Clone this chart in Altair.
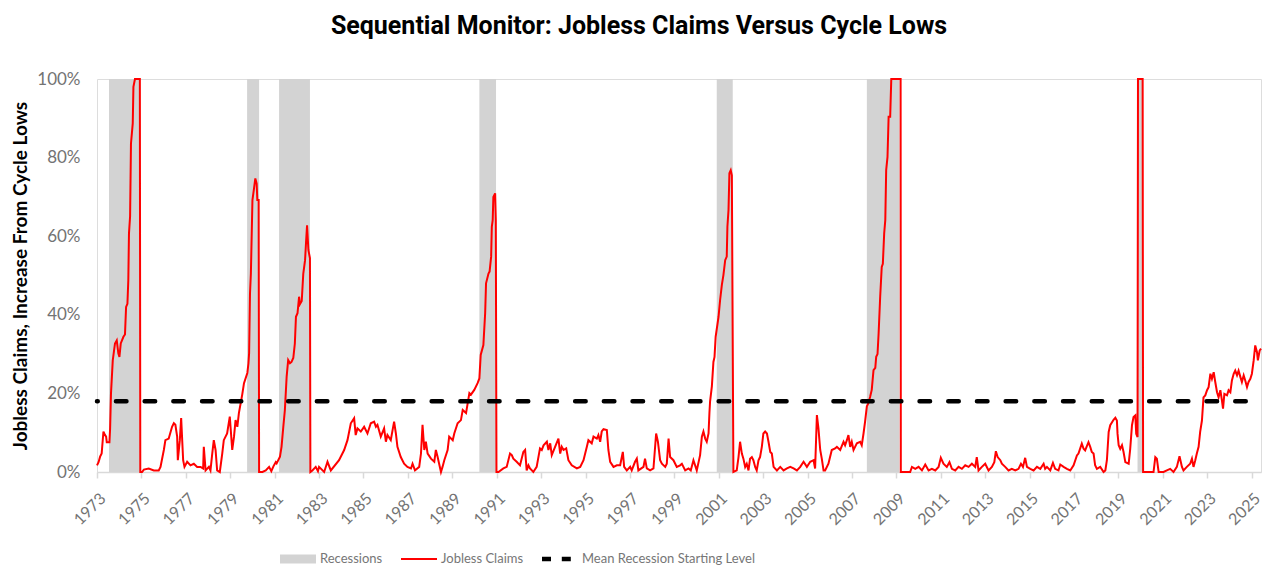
import altair as alt
import pandas as pd

# ---------------- data ----------------
claims_year = [
    1973.00, 1973.07, 1973.14, 1973.21, 1973.29, 1973.35, 1973.41, 1973.44, 1973.56, 1973.59,
    1973.63, 1973.71, 1973.81, 1973.89, 1973.96, 1974.01, 1974.07, 1974.19, 1974.26, 1974.31,
    1974.37, 1974.41, 1974.44, 1974.49, 1974.53, 1974.61, 1974.64, 1974.71, 1974.93, 1974.95,
    1975.03, 1975.11, 1975.33, 1975.56, 1975.78, 1975.86, 1976.01, 1976.08, 1976.23, 1976.38,
    1976.46, 1976.53, 1976.61, 1976.64, 1976.73, 1976.79, 1976.88, 1976.94, 1977.06, 1977.21,
    1977.36, 1977.51, 1977.66, 1977.78, 1977.81, 1977.89, 1978.04, 1978.11, 1978.19, 1978.26,
    1978.34, 1978.41, 1978.53, 1978.64, 1978.71, 1978.86, 1978.98, 1979.09, 1979.17, 1979.24,
    1979.32, 1979.39, 1979.54, 1979.62, 1979.77, 1979.82, 1979.85, 1979.89, 1979.93, 1980.00,
    1980.07, 1980.13, 1980.19, 1980.22, 1980.28, 1980.30,
    1980.45, 1980.60, 1980.75, 1980.85, 1980.95, 1981.05, 1981.09, 1981.24, 1981.31, 1981.39,
    1981.46, 1981.54, 1981.61, 1981.69, 1981.76, 1981.84, 1981.91, 1981.96, 1982.03, 1982.10,
    1982.14, 1982.22, 1982.29, 1982.37, 1982.42, 1982.46, 1982.52, 1982.59, 1982.61,
    1982.70, 1982.85, 1982.95, 1983.00, 1983.23, 1983.38, 1983.53, 1983.90, 1984.13, 1984.28,
    1984.43, 1984.58, 1984.65, 1984.73, 1984.88, 1985.03, 1985.18, 1985.33, 1985.48, 1985.56,
    1985.63, 1985.78, 1985.93, 1986.01, 1986.08, 1986.23, 1986.38, 1986.46, 1986.53, 1986.68,
    1986.83, 1986.98, 1987.14, 1987.21, 1987.32, 1987.51, 1987.59, 1987.66, 1987.74, 1987.81,
    1987.89, 1988.04, 1988.19, 1988.26, 1988.34, 1988.49, 1988.56, 1988.64, 1988.79, 1988.86,
    1989.02, 1989.09, 1989.24, 1989.39, 1989.47, 1989.62, 1989.77, 1989.84, 1989.99, 1990.14,
    1990.22, 1990.28, 1990.40, 1990.48, 1990.52, 1990.63, 1990.68, 1990.75, 1990.78, 1990.82,
    1990.85, 1990.93, 1990.96, 1990.99,
    1991.08, 1991.30, 1991.45, 1991.60, 1991.68, 1991.75, 1991.90, 1992.05, 1992.20, 1992.28,
    1992.35, 1992.43, 1992.50, 1992.65, 1992.80, 1992.95, 1993.03, 1993.11, 1993.26, 1993.33,
    1993.41, 1993.48, 1993.63, 1993.78, 1993.86, 1993.93, 1994.01, 1994.13, 1994.23, 1994.38,
    1994.61, 1994.76, 1994.91, 1995.06, 1995.13, 1995.28, 1995.36, 1995.51, 1995.58, 1995.66,
    1995.73, 1995.81, 1995.96, 1996.03, 1996.11, 1996.26, 1996.41, 1996.56, 1996.68, 1996.74,
    1996.86, 1997.01, 1997.08, 1997.23, 1997.31, 1997.38, 1997.61, 1997.68, 1997.76, 1997.91,
    1998.06, 1998.18, 1998.26, 1998.36, 1998.44, 1998.59, 1998.66, 1998.74, 1998.81, 1998.96,
    1999.11, 1999.26, 1999.34, 1999.49, 1999.64, 1999.74, 1999.86, 2000.01, 2000.16, 2000.24,
    2000.31, 2000.39, 2000.46, 2000.54, 2000.58, 2000.61, 2000.69, 2000.76, 2000.81, 2000.86,
    2000.99, 2001.06, 2001.14, 2001.21, 2001.29, 2001.36, 2001.39, 2001.44, 2001.48, 2001.54,
    2001.59, 2001.66,
    2001.81, 2001.89, 2001.96, 2002.04, 2002.11, 2002.19, 2002.26, 2002.34, 2002.41, 2002.49,
    2002.56, 2002.64, 2002.71, 2002.79, 2002.86, 2002.94, 2003.01, 2003.09, 2003.17, 2003.24,
    2003.32, 2003.39, 2003.47, 2003.62, 2003.77, 2003.92, 2004.07, 2004.22, 2004.37, 2004.52,
    2004.67, 2004.82, 2004.97, 2005.12, 2005.27, 2005.34, 2005.42, 2005.49, 2005.57, 2005.64,
    2005.72, 2005.79, 2005.94, 2006.09, 2006.24, 2006.32, 2006.47, 2006.62, 2006.69, 2006.77,
    2006.84, 2006.92, 2006.99, 2007.07, 2007.14, 2007.22, 2007.37, 2007.44, 2007.52, 2007.59,
    2007.67, 2007.74, 2007.82, 2007.89, 2007.97, 2008.05, 2008.09, 2008.15, 2008.20, 2008.27,
    2008.34, 2008.39, 2008.45, 2008.50, 2008.54, 2008.60, 2008.65, 2008.72, 2008.77, 2009.19,
    2009.20,
    2009.25, 2009.62, 2009.70, 2009.85, 2010.00, 2010.15, 2010.30, 2010.45, 2010.60, 2010.75,
    2010.90, 2011.00, 2011.12, 2011.27, 2011.39, 2011.50, 2011.65, 2011.80, 2011.95, 2012.10,
    2012.25, 2012.40, 2012.55, 2012.62, 2012.70, 2012.85, 2013.00, 2013.15, 2013.30, 2013.41,
    2013.48, 2013.56, 2013.68, 2013.75, 2013.90, 2014.05, 2014.20, 2014.35, 2014.50, 2014.61,
    2014.70, 2014.80, 2014.88, 2015.03, 2015.18, 2015.33, 2015.48, 2015.63, 2015.70, 2015.78,
    2015.93, 2016.05, 2016.15, 2016.30, 2016.38, 2016.53, 2016.68, 2016.83, 2016.98, 2017.13,
    2017.20, 2017.35, 2017.43, 2017.50, 2017.65, 2017.73, 2017.80, 2017.88, 2017.95, 2018.03,
    2018.18, 2018.33, 2018.41, 2018.48, 2018.56, 2018.63, 2018.78, 2018.86, 2018.93, 2018.96,
    2019.01, 2019.08, 2019.16, 2019.23, 2019.31, 2019.46, 2019.53, 2019.61, 2019.68, 2019.76,
    2019.80, 2019.86, 2019.88, 2020.09, 2020.11,
    2020.58, 2020.66, 2020.73, 2020.81, 2021.03, 2021.18, 2021.33, 2021.48, 2021.63, 2021.75,
    2021.86, 2021.93, 2022.08, 2022.23, 2022.31, 2022.38, 2022.46, 2022.53, 2022.61, 2022.68,
    2022.76, 2022.83, 2022.91, 2022.99, 2023.06, 2023.14, 2023.21, 2023.29, 2023.36, 2023.44,
    2023.51, 2023.59, 2023.66, 2023.71, 2023.77, 2023.89, 2023.96, 2024.04, 2024.11, 2024.19,
    2024.26, 2024.34, 2024.41, 2024.49, 2024.56, 2024.64, 2024.71, 2024.79, 2024.86, 2024.94,
    2025.01, 2025.09, 2025.16, 2025.24, 2025.28, 2025.36, 2025.42,
]
claims_value = [
    1.7, 2.5, 3.9, 4.7, 10.3, 9.5, 9.0, 7.6, 7.6, 11.0,
    20.0, 28.4, 32.7, 33.5, 30.2, 29.3, 32.7, 34.4, 35.0, 42.0,
    42.8, 48.8, 60.7, 65.0, 83.6, 88.7, 98.0, 100, 100, 0,
    0, 0.6, 0.9, 0.4, 0.4, 1.3, 5.6, 8.1, 8.5, 11.5,
    12.4, 12.0, 9.0, 3.0, 8.1, 13.7, 3.0, 1.3, 2.6, 1.7,
    2.1, 1.3, 1.3, 0.9, 6.4, 0.4, 1.3, 0.4, 4.7, 8.1,
    5.6, 0.4, 0, 4.7, 8.1, 9.8, 14.1, 5.6, 9.0, 13.2,
    11.5, 15.0, 19.7, 22.6, 25.2, 27.6, 30.2, 45.4, 50.5, 69.2,
    72.1, 74.7, 73.4, 69.2, 69.2, 0,
    0, 0.4, 1.3, 0.2, 1.5, 2.5, 2.2, 3.9, 6.4, 11.5,
    15.7, 24.2, 28.5, 27.7, 28.0, 29.0, 32.7, 39.5, 40.4, 44.6,
    42.7, 43.5, 50.5, 53.9, 59.0, 62.8, 56.5, 54.4, 0,
    0.4, 1.3, 0.2, 1.3, 0, 2.6, 0.4, 3.0, 5.6, 8.1,
    12.4, 13.7, 9.4, 11.1, 10.3, 11.5, 9.8, 12.4, 12.8, 11.5,
    12.0, 9.0, 11.1, 7.7, 9.4, 8.1, 12.8, 9.8, 6.4, 3.8,
    2.1, 1.3, 0.9, 2.1, 0.4, 1.3, 4.7, 12.0, 5.6, 7.7,
    4.7, 3.4, 2.6, 5.6, 3.8, 0, 1.3, 3.0, 5.6, 9.0,
    8.1, 9.8, 12.4, 13.2, 15.8, 15.0, 20.1, 19.7, 20.9, 22.6,
    23.8, 29.8, 32.3, 40.4, 48.0, 50.5, 51.0, 54.8, 62.4, 64.1,
    70.0, 70.9, 64.1, 0,
    0, 0.9, 1.3, 4.7, 4.3, 3.4, 2.6, 1.7, 5.1, 5.6,
    0.4, 1.7, 0.9, 0, 1.3, 6.0, 5.6, 6.8, 7.7, 5.6,
    7.3, 4.3, 6.4, 8.5, 4.7, 6.4, 5.6, 6.0, 3.0, 1.7,
    0.9, 1.3, 3.0, 6.4, 8.1, 7.3, 9.0, 8.5, 9.4, 7.7,
    10.3, 10.9, 10.7, 5.6, 2.6, 1.3, 1.7, 1.7, 5.1, 1.3,
    0.4, 1.3, 0.4, 2.6, 3.4, 0.4, 1.3, 3.4, 0.9, 0.4,
    0.9, 9.8, 7.7, 3.0, 2.1, 1.3, 2.1, 8.5, 3.8, 3.0,
    1.3, 1.7, 2.1, 0.4, 0.9, 0.4, 3.0, 0.4, 4.3, 9.0,
    10.3, 8.5, 7.7, 9.8, 15.0, 18.0, 21.8, 28.0, 29.3, 34.4,
    39.5, 43.7, 47.6, 50.1, 53.9, 54.8, 62.4, 66.7, 76.0, 76.8,
    75.5, 0,
    0.4, 3.8, 7.7, 4.7, 3.4, 1.3, 2.1, 0.4, 3.4, 3.8,
    3.0, 1.3, 0.4, 3.0, 3.8, 6.4, 9.8, 10.3, 9.8, 7.7,
    5.1, 4.7, 1.3, 0.4, 1.3, 0.4, 0.9, 1.3, 0.9, 0.4,
    1.3, 2.6, 1.3, 2.6, 3.0, 0.9, 14.5, 11.1, 5.6, 3.4,
    0.4, 0.4, 2.1, 5.6, 6.0, 6.4, 5.6, 7.7, 6.8, 8.1,
    9.4, 6.4, 7.7, 5.6, 6.4, 7.3, 7.7, 6.8, 9.8, 12.8,
    16.7, 17.5, 19.2, 20.9, 25.9, 26.5, 29.3, 30.0, 35.3, 44.6,
    52.2, 53.0, 60.7, 64.1, 76.8, 80.2, 90.4, 90.4, 100, 100,
    0,
    0, 0, 1.3, 0.8, 1.3, 0.4, 1.9, 0.4, 0.8, 0.4,
    1.3, 3.6, 2.1, 1.3, 2.5, 0.8, 0.4, 1.3, 0.8, 1.7,
    1.3, 2.1, 1.3, 3.8, 0.4, 1.3, 2.1, 0.4, 1.3, 2.5,
    5.3, 3.8, 3.0, 2.1, 1.3, 0.4, 0.8, 0.4, 0.8, 2.1,
    1.3, 3.6, 1.3, 0.8, 0.4, 1.3, 0.8, 2.1, 0.8, 1.3,
    0.4, 2.3, 0.8, 0.4, 1.9, 1.3, 0.8, 0.4, 1.7, 4.2,
    4.7, 7.2, 5.9, 5.5, 7.6, 6.4, 5.1, 4.7, 1.7, 0.8,
    1.3, 0, 0.4, 3.0, 10.2, 11.9, 13.3, 13.8, 13.1, 9.7,
    6.8, 5.9, 6.8, 5.1, 2.5, 2.1, 5.9, 11.9, 14.0, 14.4,
    9.7, 8.9, 100, 100, 0,
    0, 3.8, 3.4, 0, 0, 0.4, 0.8, 0, 1.3, 4.0,
    1.3, 0.4, 1.3, 2.1, 3.4, 1.3, 3.0, 4.7, 6.4, 10.2,
    13.1, 19.0, 19.5, 20.8, 21.6, 25.0, 23.7, 25.4, 22.9, 20.3,
    19.0, 20.8, 18.2, 16.1, 19.9, 19.5, 20.8, 20.3, 23.3, 25.0,
    25.8, 24.6, 25.8, 24.2, 22.9, 24.6, 23.3, 21.6, 22.9, 23.7,
    25.0, 28.4, 32.2, 30.5, 28.4, 30.9, 31.4,
]

rec_start = [1973.54, 1979.76, 1981.20, 1990.22, 2000.91, 2007.67, 2019.86]
rec_end = [1974.94, 1980.30, 1982.59, 1990.97, 2001.63, 2009.14, 2020.10]

mean_level = [18.0]
mean_start = [1973.0]
mean_end = [2024.95]

tick_years = list(range(1973, 2026, 2))
y_ticks = [0, 20, 40, 60, 80, 100]

legend_names = ["Recessions", "Jobless Claims", "Mean Recession Starting Level"]
legend_colors = ["#d3d3d3", "#ff0000", "#000000"]
legend_shapes = [
    "M-1,-0.25H1V0.25H-1Z",
    "M-1,-0.06H1V0.06H-1Z",
    "M-1,-0.12H-0.5V0.12H-1Z M0.1,-0.12H0.6V0.12H0.1Z",
]

# ---------------- tables ----------------
claims_df = pd.DataFrame({"year": claims_year, "value": claims_value})
rec_df = pd.DataFrame({"start": rec_start, "end": rec_end})
mean_df = pd.DataFrame({"start": mean_start, "end": mean_end, "level": mean_level})
legend_df = pd.DataFrame({"series": legend_names})

x_scale = alt.Scale(domain=[1973, 2025.42], nice=False, zero=False)
y_scale = alt.Scale(domain=[0, 100], nice=False)

x_axis = alt.Axis(
    values=tick_years, format="d", labelAngle=-45, labelAlign="right",
    labelBaseline="top", labelFont="Lato", labelFontSize=16, labelColor="#737373",
    labelPadding=12, labelOverlap=False, labelFlush=False,
    domainColor="#d9d9d9", domainWidth=1.5, tickColor="#d9d9d9", tickSize=6,
    tickWidth=1.5, grid=False, title=None,
)
y_axis = alt.Axis(
    values=y_ticks, labelExpr="datum.value + '%'", labelFont="Lato",
    labelFontSize=17, labelColor="#737373", labelPadding=17,
    domain=False, ticks=False, grid=False,
    title="Jobless Claims, Increase From Cycle Lows", titleFont="Lato",
    titleFontSize=19, titleFontWeight="bold", titleColor="#000000",
    titleX=-77, titleY=196.5, titleAlign="center", titleBaseline="middle",
)

recessions = alt.Chart(rec_df).mark_rect(color="#d3d3d3").encode(
    x=alt.X("start:Q", scale=x_scale, axis=x_axis),
    x2="end:Q",
    y=alt.datum(100, scale=y_scale, axis=y_axis),
    y2=alt.datum(0),
)

claims = alt.Chart(claims_df).mark_line(color="#ff0000", strokeWidth=2).encode(
    x=alt.X("year:Q", scale=x_scale),
    y=alt.Y("value:Q", scale=y_scale),
)

mean_rule = alt.Chart(mean_df).mark_rule(
    color="#000000", strokeWidth=4.5, strokeDash=[10.5, 18.2],
    strokeDashOffset=9.75, strokeCap="round",
).encode(
    x=alt.X("start:Q", scale=x_scale),
    x2="end:Q",
    y=alt.Y("level:Q", scale=y_scale),
)

legend_params = dict(
    title=None, orient="none", legendX=183, legendY=462, direction="horizontal",
    symbolSize=1296, symbolStrokeWidth=0, symbolOpacity=1,
    labelFont="Lato", labelFontSize=13, labelColor="#767676",
    labelOffset=4, columnPadding=18, padding=0, labelLimit=400,
)

legend_layer = alt.Chart(legend_df).mark_point(filled=True).encode(
    color=alt.Color("series:N", scale=alt.Scale(domain=legend_names, range=legend_colors),
                    legend=alt.Legend(**legend_params)),
    shape=alt.Shape("series:N", scale=alt.Scale(domain=legend_names, range=legend_shapes),
                    legend=alt.Legend(**legend_params)),
).transform_filter("false")

chart = alt.layer(recessions, claims, mean_rule, legend_layer).properties(
    width=1164,
    height=393,
    autosize=alt.AutoSizeParams(type="none"),
    padding={"left": 89, "top": 71, "right": 6, "bottom": 95},
    title=alt.TitleParams(
        text="Sequential Monitor: Jobless Claims Versus Cycle Lows",
        font="Roboto", fontSize=25, fontWeight="bold",
        color="#000000", anchor="middle", dx=-40, offset=31,
    ),
).configure_view(stroke=None).configure(background="#ffffff")

chart.save("out.html", embed_options={"renderer": "svg", "actions": False})
